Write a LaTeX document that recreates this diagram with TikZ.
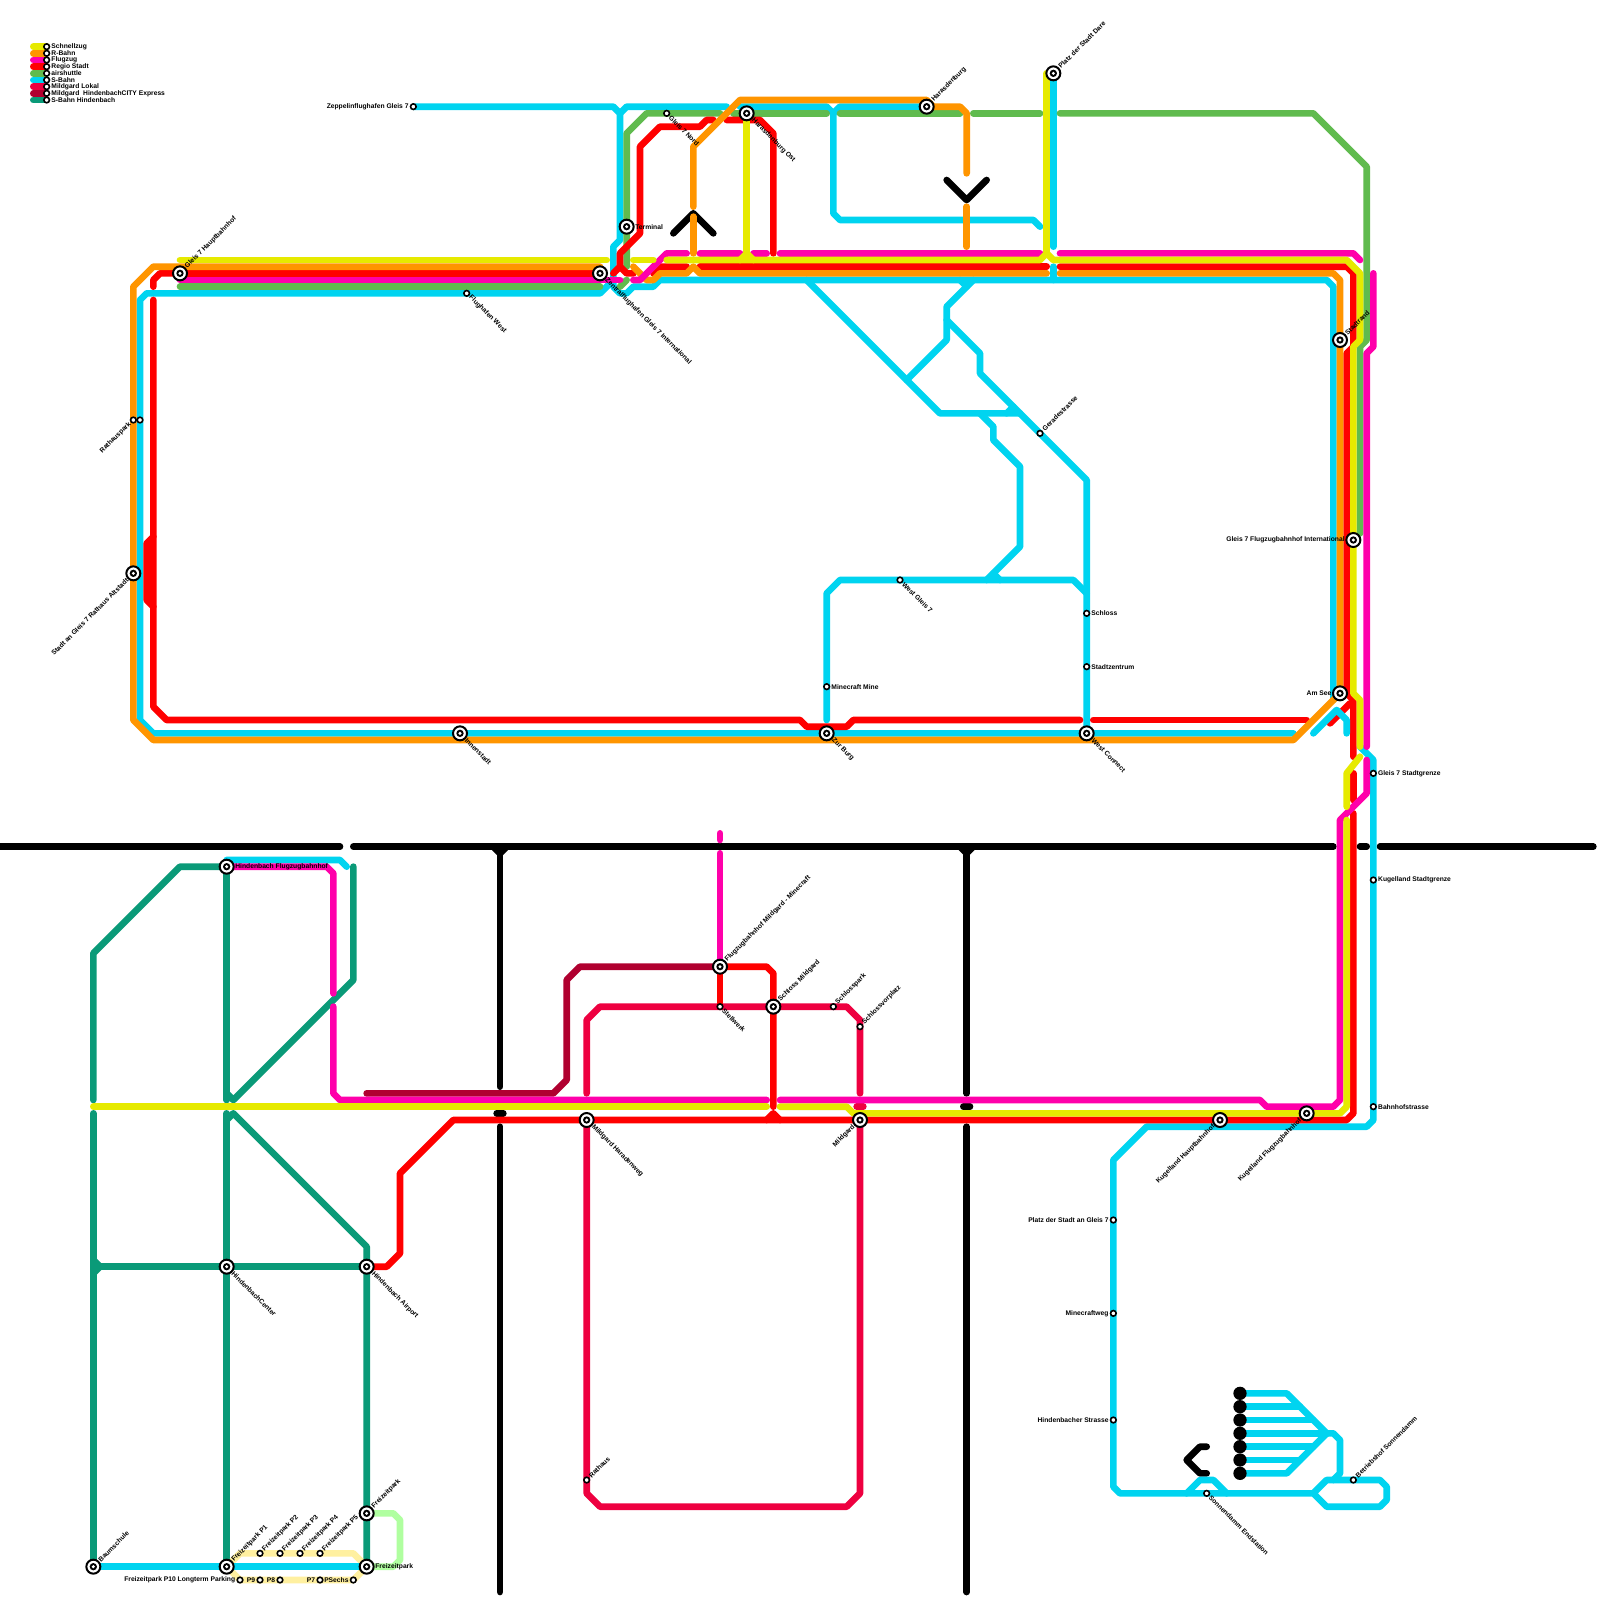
\documentclass[tikz,border=0pt]{standalone}
\usepackage{fontspec}
\setmainfont{Liberation Sans}
\definecolor{cYel}{HTML}{E6EA00}
\definecolor{cOra}{HTML}{FF9500}
\definecolor{cMag}{HTML}{FF00AA}
\definecolor{cRed}{HTML}{FF0000}
\definecolor{cGrn}{HTML}{60BB4E}
\definecolor{cCya}{HTML}{00D4F0}
\definecolor{cLok}{HTML}{EE0040}
\definecolor{cExp}{HTML}{B00030}
\definecolor{cHin}{HTML}{0A9A78}
\definecolor{cLgr}{HTML}{B0FFA0}
\definecolor{cLye}{HTML}{FFF0A0}
\tikzset{
  x=6.6667pt,y=-6.6667pt,
  ln/.style={line width=6.6667pt,line cap=round,line join=round},
  lYel/.style={ln,draw=cYel}, lOra/.style={ln,draw=cOra}, lMag/.style={ln,draw=cMag},
  lRed/.style={ln,draw=cRed}, lGrn/.style={ln,draw=cGrn}, lCya/.style={ln,draw=cCya},
  lLok/.style={ln,draw=cLok}, lExp/.style={ln,draw=cExp}, lHin/.style={ln,draw=cHin},
  lLgr/.style={ln,draw=cLgr}, lLye/.style={ln,draw=cLye}, lBlk/.style={ln,draw=black},
  bigst/.style={circle,draw=black,fill=white,line width=2pt,minimum size=14pt,inner sep=0pt,
    path picture={\fill[black] (path picture bounding box.center) circle (0.55);
                  \fill[white] (path picture bounding box.center) circle (0.25);}},
  smst/.style={circle,draw=black,fill=white,line width=1.6pt,minimum size=5.6pt,inner sep=0pt},
  lbl/.style={font=\bfseries\fontsize{6.72}{7.5}\selectfont,text=black,inner ysep=0pt,inner xsep=8.5pt},
  ne/.style={lbl,rotate=45,anchor=west},
  se/.style={lbl,rotate=-45,anchor=west},
  sw/.style={lbl,rotate=45,anchor=east},
  ea/.style={lbl,anchor=west},
  we/.style={lbl,anchor=east},
  sm/.style={inner xsep=4.6pt},
  dot/.style={circle,fill=black,minimum size=13.3pt,inner sep=0pt},
}
\begin{document}
\begin{tikzpicture}
\useasboundingbox[fill=white] (0,0) rectangle (240,240);
% station positions
\coordinate (hbf) at (27,41);
\coordinate (zen) at (90,41);
\coordinate (ter) at (94,34);
\coordinate (nor) at (100,17);
\coordinate (hao) at (112,17);
\coordinate (har) at (139,16);
\coordinate (dar) at (158,11);
\coordinate (zep) at (62,16);
\coordinate (fwe) at (70,44);
\coordinate (rp1) at (20,63);
\coordinate (rp2) at (21,63);
\coordinate (alt) at (20,86);
\coordinate (inn) at (69,110);
\coordinate (bur) at (124,110);
\coordinate (wco) at (163,110);
\coordinate (mmi) at (124,103);
\coordinate (wg7) at (135,87);
\coordinate (sch) at (163,92);
\coordinate (szt) at (163,100);
\coordinate (ger) at (156,65);
\coordinate (sra) at (201,51);
\coordinate (fin) at (203,81);
\coordinate (see) at (201,104);
\coordinate (sgr) at (206,116);
\coordinate (ksg) at (206,132);
\coordinate (bhs) at (206,166);
\coordinate (khb) at (183,168);
\coordinate (kfb) at (196,167);
\coordinate (pla) at (167,183);
\coordinate (mcw) at (167,197);
\coordinate (hst) at (167,213);
\coordinate (son) at (181,224);
\coordinate (bet) at (203,222);
\coordinate (hfb) at (34,130);
\coordinate (fmm) at (108,145);
\coordinate (ste) at (108,151);
\coordinate (smi) at (116,151);
\coordinate (spk) at (125,151);
\coordinate (svp) at (129,154);
\coordinate (mha) at (88,168);
\coordinate (mil) at (129,168);
\coordinate (rat) at (88,222);
\coordinate (hce) at (34,190);
\coordinate (hai) at (55,190);
\coordinate (fzo) at (55,227);
\coordinate (fzu) at (55,235);
\coordinate (fp1) at (34,235);
\coordinate (bau) at (14,235);
\coordinate (fp2) at (39,233);
\coordinate (fp3) at (42,233);
\coordinate (fp4) at (45,233);
\coordinate (fp5) at (48,233);
\coordinate (p10) at (36,237);
\coordinate (pp9) at (39,237);
\coordinate (pp8) at (42,237);
\coordinate (pp7) at (48,237);
\coordinate (pp6) at (53,237);
% black structure
\draw[lBlk] (0,127) -- (51,127);
\draw[lBlk] (53,127) -- (200,127);
\draw[lBlk] (204,127) -- (205,127);
\draw[lBlk] (207,127) -- (239,127);
\draw[lBlk] (74,127) -- (75,128) -- (76,127);
\draw[lBlk] (144,127) -- (145,128) -- (146,127);
\draw[lBlk] (75,127) -- (75,163);
\draw[lBlk] (74.5,167) -- (75.5,167);
\draw[lBlk] (75,169) -- (75,238.8);
\draw[lBlk] (145,127) -- (145,164);
\draw[lBlk] (144.5,166) -- (145.5,166);
\draw[lBlk] (145,169) -- (145,238.8);
\draw[lBlk] (101,35) -- (104,32) -- (107,35);
\draw[lBlk] (142,27) -- (145,30) -- (148,27);
\draw[lBlk] (181,217) -- (180,217) -- (178,219) -- (180,221) -- (181,221);
% S-Bahn Hindenbach
\draw[lHin] (14,165) -- (14,143) -- (27,130) -- (hfb);
\draw[lHin] (14,167) -- (bau);
\draw[lHin] (14,189) -- (15,190) -- (14,191);
\draw[lHin] (14,190) -- (hce) -- (hai);
\draw[lHin] (hfb) -- (34,165);
\draw[lHin] (34,167) -- (fp1);
\draw[lHin] (34,164) -- (35,165) -- (53,147) -- (53,130);
\draw[lHin] (34,168) -- (35,167) -- (55,187) -- (hai) -- (fzu);
% Freizeitpark loops
\draw[lLgr] (fzo) -- (59,227) -- (60,228) -- (60,234) -- (59,235) -- (fzu);
\draw[lLye] (fp1) -- (36,233) -- (53,233) -- (fzu);
\draw[lLye] (fp1) -- (36,237) -- (53,237) -- (fzu);
% Mildgard lines
\draw[lExp] (55,164) -- (83,164) -- (85,162) -- (85,147) -- (87,145) -- (fmm);
\draw[lLok] (88,164) -- (88,153) -- (90,151) -- (127,151) -- (129,153) -- (129,164);
\draw[lLok] (128.5,166) -- (129.5,166);
\draw[lLok] (mha) -- (88,224) -- (90,226) -- (127,226) -- (129,224) -- (mil);
% S-Bahn
\draw[lCya] (zep) -- (92,16) -- (93,17) -- (93,36) -- (92,37) -- (92,42) -- (90,44) -- (22,44) -- (21,45) -- (21,108) -- (23,110) -- (194,110);
\draw[lCya] (92,42) -- (92,43) -- (93,44) -- (94,44) -- (95,43) -- (98,43) -- (99,42) -- (199,42) -- (200,43) -- (200,105);
\draw[lCya] (93,17) -- (94,16) -- (109,16);
\draw[lCya] (111,16) -- (124,16) -- (125,17) -- (125,32) -- (126,33) -- (155,33) -- (156,34);
\draw[lCya] (125,17) -- (126,16) -- (har);
\draw[lCya] (dar) -- (158,37);
\draw[lCya] (158,40) -- (158,42);
\draw[lCya] (121,42) -- (141,62) -- (153,62);
\draw[lCya] (146,42) -- (142,46) -- (142,51) -- (136,57);
\draw[lCya] (144,42) -- (145,43);
\draw[lCya] (142,48) -- (147,53) -- (147,56) -- (163,72) -- (163,109);
\draw[lCya] (151,62) -- (152,61);
\draw[lCya] (147,62) -- (149,64) -- (149,66) -- (153,70) -- (153,82) -- (148,87);
\draw[lCya] (124,108) -- (124,89) -- (126,87) -- (161,87) -- (163,89);
\draw[lCya] (149,86) -- (150,87);
\draw[lCya] (204,112) -- (206,114) -- (206,168) -- (205,169) -- (172,169) -- (167,174) -- (167,223) -- (168,224) -- (197,224) -- (199,222) -- (207,222) -- (208,223) -- (208,225) -- (207,226) -- (199,226) -- (197,224);
\draw[lCya] (178,224) -- (180,222) -- (182,222) -- (184,224);
\draw[lCya] (186,209) -- (193,209) -- (199,215) -- (200,215) -- (201,216) -- (201,221) -- (200,222);
\draw[lCya] (186,221) -- (193,221) -- (199,215);
\draw[lCya] (186,211) -- (195,211);
\draw[lCya] (186,213) -- (197,213);
\draw[lCya] (186,215) -- (199,215);
\draw[lCya] (186,217) -- (197,217);
\draw[lCya] (186,219) -- (195,219);
\draw[lCya] (bau) -- (fzu);
\draw[lCya] (hfb) ++(0,-1) -- (51,129) -- (52,130);
\foreach \yy [count=\k] in {209,211,...,221} \node[dot] (depot\k) at (186,\yy) {};
% airshuttle
\draw[lGrn] (27,43) -- (90,43);
\draw[lGrn] (93,43) -- (94,42);
\draw[lGrn] (94,40) -- (94,20) -- (97,17) -- (108,17);
\draw[lGrn] (110,17) -- (124,17);
\draw[lGrn] (126,17) -- (144,17);
\draw[lGrn] (146,17) -- (156,17);
\draw[lGrn] (159,17) -- (197,17) -- (205,25) -- (205,51) -- (204,52) -- (204,80);
% Regio Stadt
\draw[lRed] (hbf) -- (24,41) -- (23,42) -- (23,43);
\draw[lRed] (27,41) -- (90,41);
\draw[lRed] (23,45) -- (23,106) -- (25,108) -- (120,108) -- (121,109) -- (127,109) -- (128,108) -- (162,108);
\draw[lRed] (23,80.5) -- (22,81.5) -- (22,90) -- (23,91);
\draw[lRed] (164,108) -- (196,108);
\draw[lRed] (199.5,108.5) -- (202.5,105.5);
\draw[lRed] (92,41) -- (93,40) -- (93,38) -- (96,35) -- (96,22) -- (99,19) -- (105,19) -- (106,18) -- (107,18);
\draw[lRed] (93,40) -- (94,41) -- (95,41);
\draw[lRed] (109,18) -- (114,18) -- (116,20) -- (116,38);
\draw[lRed] (98,41) -- (99,40) -- (103,40);
\draw[lRed] (105,40) -- (157,40);
\draw[lRed] (159,40) -- (202,40) -- (203,41) -- (203,52) -- (202,53) -- (202,104) -- (203,105) -- (203,113.5);
\draw[lRed] (203,116) -- (203,120);
\draw[lRed] (203,122) -- (203,167) -- (202,168) -- (68,168) -- (60,176) -- (60,188) -- (58,190) -- (hai);
\draw[lRed] (fmm) -- (115,145) -- (116,146) -- (116,166);
\draw[lRed] (115,168) -- (116,167) -- (117,168);
\draw[lRed] (fmm) -- (ste);
% R-Bahn
\draw[lOra] (90,40) -- (23,40) -- (20,43) -- (20,108) -- (23,111) -- (194,111) -- (200,105) -- (201,104) -- (201,42) -- (200,41) -- (159,41);
\draw[lOra] (95,40) -- (97,42) -- (98,42) -- (99,41) -- (103,41) -- (104,40) -- (105,41) -- (157,41);
\draw[lOra] (104,32.5) -- (104,38);
\draw[lOra] (104,31) -- (104,22) -- (111,15) -- (139,15) -- (140,16) -- (144,16) -- (145,17) -- (145,26);
\draw[lOra] (145,31) -- (145,37);
% S-Bahn spur beside the R-Bahn diagonal at Am See
\draw[lCya] (197,110) -- (200.5,106.5) -- (202,108) -- (202,110);
% Flugzug
\draw[lMag] (27,42) -- (93,42);
\draw[lMag] (95,42) -- (96,42) -- (100,38) -- (103,38);
\draw[lMag] (105,38) -- (111,38);
\draw[lMag] (113,38) -- (115,38);
\draw[lMag] (117,38) -- (156,38);
\draw[lMag] (159,38) -- (203,38) -- (204,39);
\draw[lMag] (206,41) -- (206,52) -- (205,53) -- (205,112);
\draw[lMag] (205,114) -- (205,119) -- (202,122) -- (201,123) -- (201,165) -- (200,166) -- (190,166) -- (189,165) -- (117,165);
\draw[lMag] (115,165) -- (51,165) -- (50,164) -- (50,151);
\draw[lMag] (50,149) -- (50,131) -- (49,130) -- (hfb);
\draw[lMag] (108,125) -- (108,126);
\draw[lMag] (108,128) -- (fmm);
% Schnellzug
\draw[lYel] (27,39) -- (91,39);
\draw[lYel] (95,39) -- (98,39);
\draw[lYel] (100,39) -- (156,39) -- (157,38) -- (158,39) -- (202,39) -- (204,41) -- (204,51) -- (203,52) -- (203,104) -- (204,105) -- (204,112);
\draw[lYel] (157,38) -- (157,11);
\draw[lYel] (hao) -- (112,38);
\draw[lYel] (111,39) -- (112,38) -- (113,39);
\draw[lYel] (204,113.5) -- (202,116) -- (202,121);
\draw[lYel] (202,123) -- (202,166) -- (201,167) -- (128,167) -- (127,166) -- (117,166);
\draw[lYel] (115,166) -- (14,166);
% legend
\draw[lYel] (5,7) -- (7,7);
\draw[lOra] (5,8) -- (7,8);
\draw[lMag] (5,9) -- (7,9);
\draw[lRed] (5,10) -- (7,10);
\draw[lGrn] (5,11) -- (7,11);
\draw[lCya] (5,12) -- (7,12);
\draw[lLok] (5,13) -- (7,13);
\draw[lExp] (5,14) -- (7,14);
\draw[lHin] (5,15) -- (7,15);
\foreach \n/\t [count=\i from 7] in {a/Schnellzug,b/R-Bahn,c/Flugzug,d/Regio Stadt,e/airshuttle,f/S-Bahn,g/Mildgard Lokal,h/Mildgard\ \ HindenbachCITY Express,i/S-Bahn Hindenbach}{
  \node[smst] (leg\n) at (7,\i) {};
  \node[ea,sm] (legt\n) at (7,\i) {\t};
}
% stations
\foreach \s in {hbf,zen,ter,hao,har,dar,alt,inn,bur,wco,sra,fin,see,khb,kfb,hfb,fmm,smi,mha,mil,hce,hai,fzo,fzu,fp1,bau}
  \node[bigst] (st\s) at (\s) {};
\foreach \s in {nor,zep,fwe,rp1,rp2,mmi,wg7,sch,szt,ger,sgr,ksg,bhs,pla,mcw,hst,son,bet,ste,spk,svp,rat,fp2,fp3,fp4,fp5,p10,pp9,pp8,pp7,pp6}
  \node[smst] (st\s) at (\s) {};
% labels
\node[ne] (t1) at (hbf) {Gleis 7 Hauptbahnhof};
\node[se] (t2) at (zen) {Zentralflughafen Gleis 7 International};
\node[ea] (t3) at (ter) {Terminal};
\node[se,sm] (t4) at (nor) {Gleis 7 Nord};
\node[se] (t5) at (hao) {Harasdenburg Ost};
\node[ne] (t6) at (har) {Harasdenburg};
\node[ne] (t7) at (dar) {Platz der Stadt Dare};
\node[we,sm] (t8) at (zep) {Zeppelinflughafen Gleis 7};
\node[se,sm] (t9) at (fwe) {Flughafen West};
\node[sw,sm] (t10) at (rp1) {Rathauspark};
\node[sw] (t11) at (alt) {Stadt an Gleis 7 Rathaus Altstadt};
\node[se] (t12) at (inn) {Innenstadt};
\node[se] (t13) at (bur) {Zur Burg};
\node[se] (t14) at (wco) {West Connect};
\node[ea,sm] (t15) at (mmi) {Minecraft Mine};
\node[se,sm] (t16) at (wg7) {West Gleis 7};
\node[ea,sm] (t17) at (sch) {Schloss};
\node[ea,sm] (t18) at (szt) {Stadtzentrum};
\node[ne,sm] (t19) at (ger) {Geradestrasse};
\node[ne] (t20) at (sra) {Stadtrand};
\node[we] (t21) at (fin) {Gleis 7 Flugzugbahnhof International};
\node[we] (t22) at (see) {Am See};
\node[ea,sm] (t23) at (sgr) {Gleis 7 Stadtgrenze};
\node[ea,sm] (t24) at (ksg) {Kugelland Stadtgrenze};
\node[ea,sm] (t25) at (bhs) {Bahnhofstrasse};
\node[sw] (t26) at (khb) {Kugelland Hauptbahnhof};
\node[sw] (t27) at (kfb) {Kugelland Flugzugbahnhof};
\node[we,sm] (t28) at (pla) {Platz der Stadt an Gleis 7};
\node[we,sm] (t29) at (mcw) {Minecraftweg};
\node[we,sm] (t30) at (hst) {Hindenbacher Strasse};
\node[se,sm] (t31) at (son) {Sonnendamm Endstation};
\node[ne,sm] (t32) at (bet) {Betriebshof Sonnendamm};
\node[ea] (t33) at (hfb) {Hindenbach Flugzugbahnhof};
\node[ne] (t34) at (fmm) {Flugzugbahnhof Mildgard - Minecraft};
\node[se,sm] (t35) at (ste) {Stellwerk};
\node[ne] (t36) at (smi) {Schloss Mildgard};
\node[ne,sm] (t37) at (spk) {Schlosspark};
\node[ne,sm] (t38) at (svp) {Schlossvorplatz};
\node[se] (t39) at (mha) {Mildgard Haradenweg};
\node[sw] (t40) at (mil) {Mildgard};
\node[ne,sm] (t41) at (rat) {Rathaus};
\node[se] (t42) at (hce) {HindenbachCenter};
\node[se] (t43) at (hai) {Hindenbach Airport};
\node[ne] (t44) at (fzo) {Freizeitpark};
\node[ea] (t45) at (fzu) {Freizeitpark};
\node[ne] (t46) at (fp1) {Freizeitpark P1};
\node[ne] (t47) at (bau) {Baumschule};
\node[ne,sm] (t48) at (fp2) {Freizeitpark P2};
\node[ne,sm] (t49) at (fp3) {Freizeitpark P3};
\node[ne,sm] (t50) at (fp4) {Freizeitpark P4};
\node[ne,sm] (t51) at (fp5) {Freizeitpark P5};
\node[we,sm] (t52) at (p10) {Freizeitpark P10 Longterm Parking};
\node[we,sm] (t53) at (pp9) {P9};
\node[we,sm] (t54) at (pp8) {P8};
\node[we,sm] (t55) at (pp7) {P7};
\node[we,sm] (t56) at (pp6) {PSechs};
\end{tikzpicture}
\end{document}
